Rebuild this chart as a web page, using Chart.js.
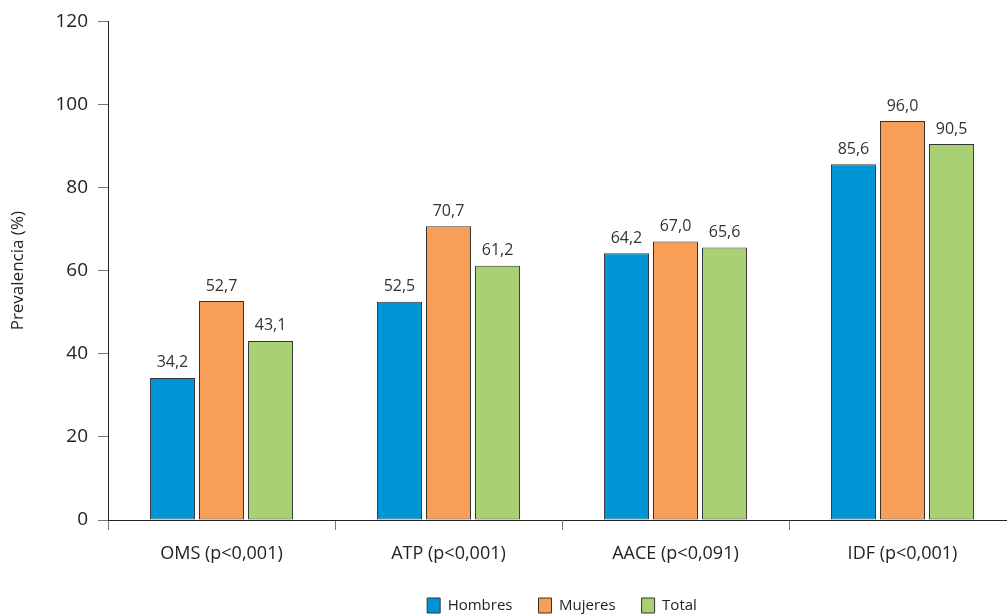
<!DOCTYPE html>
<html>
<head>
<meta charset="utf-8">
<script src="https://cdn.jsdelivr.net/npm/chart.js@4/dist/chart.umd.min.js"></script>
<style>
  html, body { margin: 0; padding: 0; background: #fff; overflow: hidden; }
  #wrap { width: 1020px; height: 616px; position: relative; }
</style>
</head>
<body>
<div id="wrap"><canvas id="chart"></canvas></div>
<script>
// ─── Data ─────────────────────────────────────────────────────
const categories = ['OMS (p<0,001)', 'ATP (p<0,001)', 'AACE (p<0,091)', 'IDF (p<0,001)'];
const hombres    = [34.2, 52.5, 64.2, 85.6];
const mujeres    = [52.7, 70.7, 67.0, 96.0];
const total      = [43.1, 61.2, 65.6, 90.5];
const seriesNames = ['Hombres', 'Mujeres', 'Total'];
const yTicks     = [0, 20, 40, 60, 80, 100, 120];

const FONT = "'Open Sans', 'Noto Sans', sans-serif";
const colors = ['#0096D6', '#F89E57', '#A9D173'];

// value labels above bars, decimal comma
const valueLabels = {
  id: 'valueLabels',
  afterDatasetsDraw(chart) {
    const ctx = chart.ctx;
    ctx.save();
    ctx.font = `16px ${FONT}`;
    ctx.fillStyle = '#333';
    ctx.textAlign = 'center';
    ctx.textBaseline = 'bottom';
    chart.data.datasets.forEach((ds, i) => {
      chart.getDatasetMeta(i).data.forEach((bar, j) => {
        const txt = ds.data[j].toFixed(1).replace('.', ',');
        ctx.fillText(txt, bar.x, bar.y - 7);
      });
    });
    ctx.restore();
  }
};

const ctx = document.getElementById('chart').getContext('2d');
new Chart(ctx, {
  type: 'bar',
  data: {
    labels: categories,
    datasets: [hombres, mujeres, total].map((d, i) => ({
      label: seriesNames[i],
      data: d,
      backgroundColor: colors[i],
      borderColor: '#333',
      borderWidth: 1,
      borderSkipped: false,
      categoryPercentage: 0.648,
      barPercentage: 0.918,
    })),
  },
  options: {
    responsive: true,
    maintainAspectRatio: false,
    animation: false,
    layout: { padding: { top: 16, right: 4, left: 0, bottom: -7 } },
    plugins: {
      tooltip: { enabled: false },
      legend: {
        position: 'bottom',
        fullSize: false,
        labels: {
          font: { family: FONT, size: 15 },
          color: '#222',
          boxWidth: 13,
          boxHeight: 15,
          padding: 26,
          useBorderRadius: false,
        },
      },
    },
    scales: {
      x: {
        offset: true,
        grid: { offset: true, drawOnChartArea: false, drawTicks: true, tickLength: 10, color: '#777' },
        border: { display: true, color: '#222', width: 1 },
        ticks: { font: { family: FONT, size: 18 }, color: '#222', padding: 13 },
        afterFit: s => { s.height = 52; },
      },
      y: {
        min: 0,
        max: 120,
        afterBuildTicks: s => { s.ticks = yTicks.map(v => ({ value: v })); },
        grid: { drawOnChartArea: false, drawTicks: true, tickLength: 10, color: '#777' },
        border: { display: true, color: '#222', width: 1 },
        ticks: { font: { family: FONT, size: 19 }, color: '#222', padding: 10 },
        title: { display: true, text: 'Prevalencia (%)', font: { family: FONT, size: 17 }, color: '#222', padding: { top: 8, bottom: 0 } },
        afterFit: s => { s.width = 108; },
      },
    },
  },
  plugins: [valueLabels],
});
</script>
</body>
</html>
